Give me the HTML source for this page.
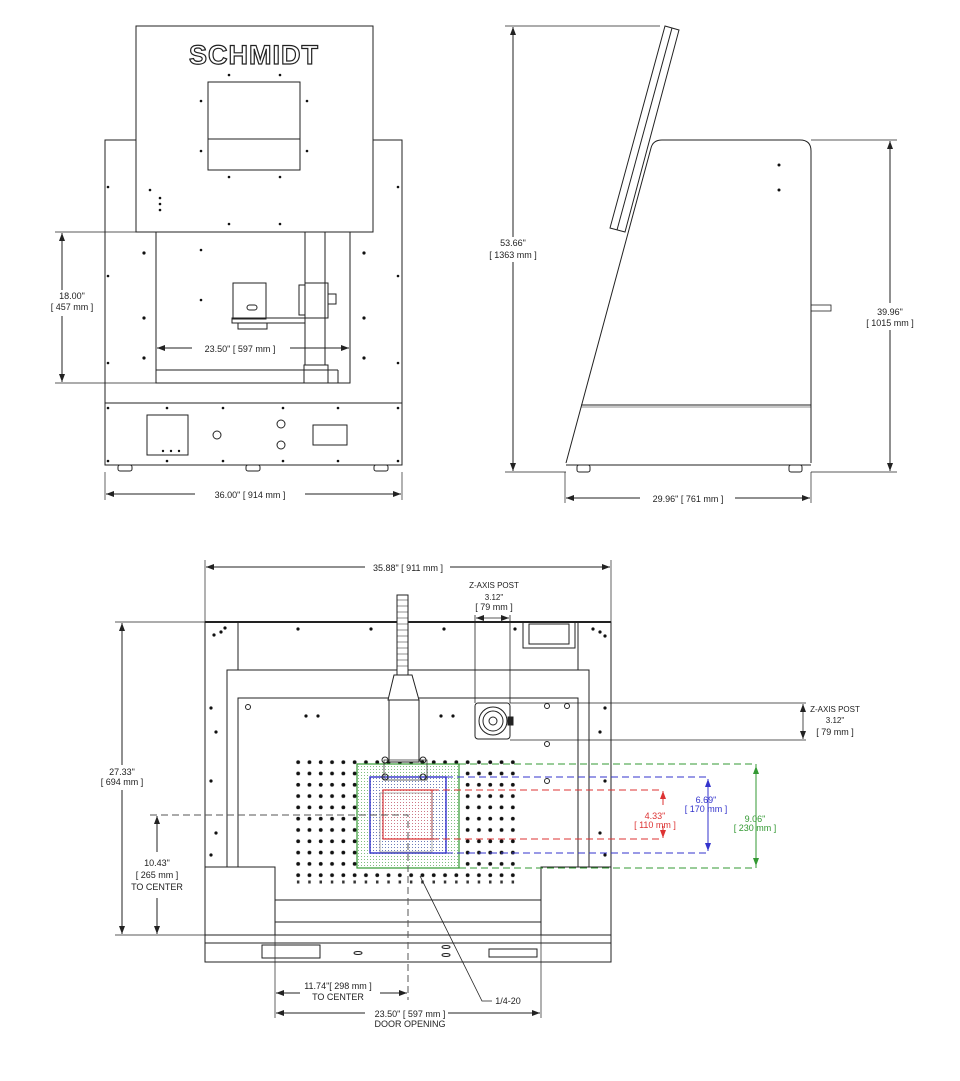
<!DOCTYPE html>
<html><head><meta charset="utf-8"><style>
html,body{margin:0;padding:0;background:#fff}
svg{display:block}
text{font-family:"Liberation Sans",sans-serif;font-size:9px;fill:#222}
</style></head><body>
<svg width="960" height="1081" viewBox="0 0 960 1081" xmlns="http://www.w3.org/2000/svg">
<defs>
<marker id="a" markerWidth="8" markerHeight="6" refX="8" refY="3" orient="auto-start-reverse" markerUnits="userSpaceOnUse"><path d="M0,0L8,3L0,6z" fill="#222"/></marker>
<marker id="ar" markerWidth="8" markerHeight="6" refX="8" refY="3" orient="auto-start-reverse" markerUnits="userSpaceOnUse"><path d="M0,0L8,3L0,6z" fill="#d33"/></marker>
<marker id="ab" markerWidth="8" markerHeight="6" refX="8" refY="3" orient="auto-start-reverse" markerUnits="userSpaceOnUse"><path d="M0,0L8,3L0,6z" fill="#33c"/></marker>
<marker id="ag" markerWidth="8" markerHeight="6" refX="8" refY="3" orient="auto-start-reverse" markerUnits="userSpaceOnUse"><path d="M0,0L8,3L0,6z" fill="#393"/></marker>
<pattern id="holes" x="292.5" y="756.5" width="11.3" height="11.3" patternUnits="userSpaceOnUse"><circle cx="5.65" cy="5.65" r="1.9" fill="#111"/></pattern>
<pattern id="lholes" x="292.5" y="877" width="11.3" height="10" patternUnits="userSpaceOnUse"><rect x="4.4" y="3.5" width="2.5" height="3" fill="#333"/></pattern>
<pattern id="gdot" width="3" height="3" patternUnits="userSpaceOnUse"><circle cx="1.5" cy="1.5" r="0.5" fill="#5a5"/></pattern>
<pattern id="bdot" width="3" height="3" patternUnits="userSpaceOnUse"><circle cx="1.5" cy="1.5" r="0.5" fill="#66c"/></pattern>
<pattern id="rdot" width="3" height="3" patternUnits="userSpaceOnUse"><circle cx="1.5" cy="1.5" r="0.5" fill="#e77"/></pattern>
</defs>
<g fill="none" stroke="#222" stroke-width="1">
<!-- FRONT VIEW -->
<rect x="105" y="140" width="297" height="263"/>
<rect x="136" y="26" width="237" height="206" fill="#fff"/>
<rect x="208" y="82" width="92" height="88"/>
<line x1="208" y1="139" x2="300" y2="139"/>
<rect x="156" y="232" width="194" height="151"/>
<line x1="156" y1="370" x2="338" y2="370"/>
<line x1="338" y1="370" x2="338" y2="383"/>
<rect x="305" y="232" width="20" height="133"/>
<rect x="304" y="365" width="24" height="18"/>
<rect x="233" y="283" width="33" height="36"/>
<rect x="232" y="318" width="73" height="5"/>
<rect x="238" y="323" width="29" height="6"/>
<rect x="247" y="305" width="10" height="5" rx="2.5"/>
<rect x="305" y="283" width="23" height="35"/>
<rect x="299" y="285" width="6" height="30"/>
<rect x="328" y="294" width="8" height="10"/>
<rect x="105" y="403" width="297" height="62"/>
<rect x="147" y="415" width="41" height="40"/>
<circle cx="217" cy="435" r="4"/>
<circle cx="281" cy="424" r="4"/>
<circle cx="281" cy="445" r="4"/>
<rect x="313" y="425" width="34" height="20"/>
<rect x="118" y="465" width="14" height="6" rx="2"/>
<rect x="246" y="465" width="14" height="6" rx="2"/>
<rect x="374" y="465" width="14" height="6" rx="2"/>
<!-- front dims -->
<line x1="55" y1="232" x2="156" y2="232" stroke-width=".7"/>
<line x1="55" y1="383" x2="156" y2="383" stroke-width=".7"/>
<line x1="62" y1="233" x2="62" y2="290" marker-start="url(#a)"/>
<line x1="62" y1="316" x2="62" y2="382" marker-end="url(#a)"/>
<line x1="157" y1="348" x2="192" y2="348" marker-start="url(#a)"/>
<line x1="290" y1="348" x2="349" y2="348" marker-end="url(#a)"/>
<line x1="105" y1="472" x2="105" y2="500" stroke-width=".7"/>
<line x1="402" y1="472" x2="402" y2="500" stroke-width=".7"/>
<line x1="106" y1="494" x2="195" y2="494" marker-start="url(#a)"/>
<line x1="305" y1="494" x2="401" y2="494" marker-end="url(#a)"/>

<!-- SIDE VIEW -->
<path d="M665,26 L679,30 L625,232 L610,228 Z"/>
<line x1="672" y1="28" x2="617" y2="230"/>
<path d="M566,463 L651,148 Q653,140 662,140 L800,140 Q811,140 811,151 L811,463"/>
<line x1="566" y1="465" x2="811" y2="465"/>
<line x1="581" y1="405" x2="811" y2="405"/>
<line x1="581" y1="407" x2="811" y2="407" stroke-width=".6"/>
<rect x="577" y="465" width="13" height="7" rx="2"/>
<rect x="789" y="465" width="13" height="7" rx="2"/>
<rect x="811" y="305" width="20" height="6" stroke-width=".8"/>
<line x1="505" y1="26" x2="660" y2="26" stroke-width=".7"/>
<line x1="505" y1="472" x2="566" y2="472" stroke-width=".7"/>
<line x1="513" y1="27" x2="513" y2="237" marker-start="url(#a)"/>
<line x1="513" y1="262" x2="513" y2="471" marker-end="url(#a)"/>
<line x1="811" y1="140" x2="897" y2="140" stroke-width=".7"/>
<line x1="811" y1="472" x2="897" y2="472" stroke-width=".7"/>
<line x1="890" y1="141" x2="890" y2="303" marker-start="url(#a)"/>
<line x1="890" y1="330" x2="890" y2="471" marker-end="url(#a)"/>
<line x1="565" y1="472" x2="565" y2="503" stroke-width=".7"/>
<line x1="811" y1="472" x2="811" y2="503" stroke-width=".7"/>
<line x1="566" y1="498" x2="640" y2="498" marker-start="url(#a)"/>
<line x1="735" y1="498" x2="810" y2="498" marker-end="url(#a)"/>

<!-- TOP VIEW -->
<rect x="205" y="622" width="406" height="340"/>
<line x1="205" y1="622" x2="611" y2="622" stroke-width="2"/>
<line x1="205" y1="943" x2="611" y2="943"/>
<line x1="238" y1="622" x2="238" y2="670"/>
<line x1="578" y1="622" x2="578" y2="670"/>
<path d="M227,867 L227,670 L589,670 L589,867"/>
<path d="M238,867 L238,698 L578,698 L578,867"/>
<path d="M205,867 L275,867 L275,935 M611,867 L541,867 L541,935 M205,935 L611,935"/>
<line x1="275" y1="900" x2="541" y2="900"/>
<line x1="275" y1="922" x2="541" y2="922"/>
<rect x="262" y="945" width="58" height="13"/>
<rect x="489" y="949" width="48" height="8"/>
<ellipse cx="358" cy="953" rx="4" ry="1.5"/>
<ellipse cx="446" cy="947" rx="4" ry="1.5"/>
<ellipse cx="446" cy="955" rx="4" ry="1.5"/>
<rect x="523" y="622" width="52" height="26"/>
<rect x="529" y="624" width="40" height="20"/>
<!-- holes grid -->
<rect x="292.5" y="756.5" width="226" height="124.3" fill="url(#holes)" stroke="none"/>
<rect x="292.5" y="877" width="226" height="10" fill="url(#lholes)" stroke="none"/>
<g fill="#111" stroke="none">
<circle cx="214" cy="635" r="1.6"/><circle cx="221" cy="632" r="1.6"/><circle cx="225" cy="628" r="1.6"/>
<circle cx="298" cy="629" r="1.6"/><circle cx="371" cy="629" r="1.6"/><circle cx="444" cy="629" r="1.6"/>
<circle cx="515" cy="629" r="1.6"/><circle cx="593" cy="629" r="1.6"/><circle cx="600" cy="632" r="1.6"/><circle cx="605" cy="636" r="1.6"/>
<circle cx="211" cy="708" r="1.6"/><circle cx="216" cy="732" r="1.6"/><circle cx="211" cy="781" r="1.6"/><circle cx="216" cy="833" r="1.6"/><circle cx="211" cy="855" r="1.6"/>
<circle cx="605" cy="708" r="1.6"/><circle cx="600" cy="732" r="1.6"/><circle cx="605" cy="781" r="1.6"/><circle cx="600" cy="833" r="1.6"/><circle cx="605" cy="855" r="1.6"/>
<circle cx="306" cy="716" r="1.6"/><circle cx="318" cy="716" r="1.6"/><circle cx="441" cy="716" r="1.6"/><circle cx="453" cy="716" r="1.6"/>
<circle cx="150" cy="190" r="1.3"/><circle cx="160" cy="198" r="1.3"/><circle cx="160" cy="204" r="1.3"/><circle cx="160" cy="210" r="1.3"/>
<circle cx="229" cy="75" r="1.3"/><circle cx="280" cy="75" r="1.3"/><circle cx="201" cy="101" r="1.3"/><circle cx="307" cy="101" r="1.3"/>
<circle cx="201" cy="151" r="1.3"/><circle cx="307" cy="151" r="1.3"/><circle cx="229" cy="177" r="1.3"/><circle cx="280" cy="177" r="1.3"/>
<circle cx="229" cy="224" r="1.3"/><circle cx="280" cy="224" r="1.3"/><circle cx="108" cy="187" r="1.3"/><circle cx="398" cy="187" r="1.3"/>
<circle cx="144" cy="253" r="1.6"/><circle cx="364" cy="253" r="1.6"/><circle cx="144" cy="318" r="1.6"/><circle cx="364" cy="318" r="1.6"/>
<circle cx="144" cy="358" r="1.6"/><circle cx="364" cy="358" r="1.6"/><circle cx="201" cy="250" r="1.3"/><circle cx="201" cy="300" r="1.3"/>
<circle cx="108" cy="276" r="1.3"/><circle cx="398" cy="276" r="1.3"/><circle cx="108" cy="363" r="1.3"/><circle cx="398" cy="363" r="1.3"/>
<circle cx="108" cy="408" r="1.3"/><circle cx="167" cy="408" r="1.3"/><circle cx="223" cy="408" r="1.3"/><circle cx="283" cy="408" r="1.3"/><circle cx="338" cy="408" r="1.3"/><circle cx="398" cy="408" r="1.3"/>
<circle cx="108" cy="461" r="1.3"/><circle cx="167" cy="461" r="1.3"/><circle cx="223" cy="461" r="1.3"/><circle cx="283" cy="461" r="1.3"/><circle cx="338" cy="461" r="1.3"/><circle cx="398" cy="461" r="1.3"/>
<circle cx="163" cy="451" r="1.2"/><circle cx="171" cy="451" r="1.2"/><circle cx="179" cy="451" r="1.2"/>
<circle cx="779" cy="165" r="1.5"/><circle cx="779" cy="190" r="1.5"/>
</g>
<!-- work areas -->
<rect x="357" y="764" width="102" height="104" fill="#fff" stroke="none"/>
<rect x="357" y="764" width="102" height="104" fill="url(#gdot)" stroke="#393" stroke-width="1.2"/>
<rect x="370" y="777" width="76" height="76" fill="url(#bdot)" stroke="#33c" stroke-width="1.4"/>
<rect x="383" y="790" width="49" height="49" fill="url(#rdot)" stroke="#d33" stroke-width="1.2"/>
<rect x="380" y="793" width="52" height="59" stroke="#888" stroke-width=".7"/>
<g stroke-dasharray="7,4" stroke-width="1">
<path d="M459,764 H756 M459,868 H756 V764" stroke="#393"/>
<path d="M446,777 H708 M446,853 H708" stroke="#33c"/>
<path d="M432,790 H663 M432,839 H663" stroke="#d33"/>
<path d="M150,815 H408 V1000" stroke="#555"/>
</g>
<line x1="756" y1="766" x2="756" y2="866" stroke="#393" marker-start="url(#ag)" marker-end="url(#ag)"/>
<line x1="708" y1="779" x2="708" y2="851" stroke="#33c" marker-start="url(#ab)" marker-end="url(#ab)"/>
<line x1="663" y1="791" x2="663" y2="805" stroke="#d33" marker-start="url(#ar)"/>
<line x1="663" y1="826" x2="663" y2="838" stroke="#d33" marker-end="url(#ar)"/>
<!-- laser -->
<rect x="397" y="595" width="11" height="80" fill="#fff"/>
<path d="M397,600 H408 M397,606 H408 M397,612 H408 M397,618 H408 M397,624 H408 M397,630 H408 M397,636 H408 M397,642 H408 M397,648 H408 M397,654 H408 M397,660 H408 M397,666 H408" stroke-width=".6"/>
<path d="M394,675 H412 L419,700 H388 Z" fill="#fff"/>
<rect x="389" y="700" width="30" height="62" fill="#fff"/>
<rect x="384" y="760" width="43" height="20" stroke-width=".7"/>
<circle cx="385" cy="760" r="3"/><circle cx="423" cy="760" r="3"/><circle cx="385" cy="777" r="3"/><circle cx="423" cy="777" r="3"/>
<!-- z post -->
<rect x="475" y="703" width="35" height="36" rx="3"/>
<circle cx="493" cy="721" r="14"/><circle cx="493" cy="721" r="10"/><circle cx="493" cy="721" r="4"/>
<rect x="508" y="717" width="5" height="8" fill="#222"/>
<path d="M475,703 V615 M510,703 V615 M510,703 H806 M510,740 H806" stroke-width=".8"/>
<line x1="476" y1="618" x2="509" y2="618" marker-start="url(#a)" marker-end="url(#a)" stroke-width=".8"/>
<line x1="803" y1="704" x2="803" y2="739" marker-start="url(#a)" marker-end="url(#a)" stroke-width=".8"/>
<circle cx="547" cy="706" r="2.5"/><circle cx="567" cy="706" r="2.5"/><circle cx="547" cy="744" r="2.5"/><circle cx="547" cy="781" r="2.5"/><circle cx="248" cy="707" r="2.5"/>
<!-- top view dims -->
<path d="M205,560 V622 M611,560 V622" stroke-width=".7"/>
<line x1="206" y1="567" x2="365" y2="567" marker-start="url(#a)"/>
<line x1="450" y1="567" x2="610" y2="567" marker-end="url(#a)"/>
<path d="M115,622 H205 M115,935 H205" stroke-width=".7"/>
<line x1="122" y1="623" x2="122" y2="765" marker-start="url(#a)"/>
<line x1="122" y1="790" x2="122" y2="934" marker-end="url(#a)"/>
<line x1="157" y1="816" x2="157" y2="852" marker-start="url(#a)"/>
<line x1="157" y1="898" x2="157" y2="934" marker-end="url(#a)"/>
<path d="M275,935 V1018 M541,935 V1018" stroke-width=".7"/>
<line x1="276" y1="993" x2="300" y2="993" marker-start="url(#a)"/>
<line x1="380" y1="993" x2="407" y2="993" marker-end="url(#a)"/>
<line x1="276" y1="1013" x2="365" y2="1013" marker-start="url(#a)"/>
<line x1="448" y1="1013" x2="540" y2="1013" marker-end="url(#a)"/>
<path d="M420,876 L482,1001 H492" stroke-width=".8"/>
</g>
<text x="254" y="64" text-anchor="middle" style="font-size:27px;font-weight:bold;fill:#fff;stroke:#222;stroke-width:1.2;letter-spacing:1px">SCHMIDT</text>
<text x="240" y="352" text-anchor="middle">23.50" [ 597 mm  ]</text>
<text x="72" y="299" text-anchor="middle">18.00"</text>
<text x="72" y="310" text-anchor="middle">[ 457 mm   ]</text>
<text x="250" y="498" text-anchor="middle">36.00" [ 914 mm ]</text>
<text x="513" y="246" text-anchor="middle">53.66"</text>
<text x="513" y="258" text-anchor="middle">[ 1363 mm  ]</text>
<text x="890" y="315" text-anchor="middle">39.96"</text>
<text x="890" y="326" text-anchor="middle">[ 1015 mm ]</text>
<text x="688" y="502" text-anchor="middle">29.96" [ 761 mm ]</text>
<text x="408" y="571" text-anchor="middle">35.88" [ 911 mm ]</text>
<text x="494" y="588" text-anchor="middle" style="font-size:8px">Z-AXIS POST</text>
<text x="494" y="600" text-anchor="middle" style="font-size:8px">3.12"</text>
<text x="494" y="610" text-anchor="middle">[ 79 mm  ]</text>
<text x="835" y="712" text-anchor="middle" style="font-size:8px">Z-AXIS POST</text>
<text x="835" y="723" text-anchor="middle" style="font-size:8px">3.12"</text>
<text x="835" y="735" text-anchor="middle">[ 79 mm  ]</text>
<text x="655" y="819" text-anchor="middle" style="fill:#d33">4.33"</text>
<text x="655" y="828" text-anchor="middle" style="fill:#d33">[ 110 mm ]</text>
<text x="706" y="803" text-anchor="middle" style="fill:#33c">6.69"</text>
<text x="706" y="812" text-anchor="middle" style="fill:#33c">[ 170 mm  ]</text>
<text x="755" y="822" text-anchor="middle" style="fill:#393">9.06"</text>
<text x="755" y="831" text-anchor="middle" style="fill:#393">[ 230 mm   ]</text>
<text x="122" y="775" text-anchor="middle">27.33"</text>
<text x="122" y="785" text-anchor="middle">[ 694 mm   ]</text>
<text x="157" y="866" text-anchor="middle">10.43"</text>
<text x="157" y="878" text-anchor="middle">[ 265 mm  ]</text>
<text x="157" y="890" text-anchor="middle">TO CENTER</text>
<text x="338" y="989" text-anchor="middle">11.74"[ 298 mm  ]</text>
<text x="338" y="1000" text-anchor="middle">TO CENTER</text>
<text x="410" y="1017" text-anchor="middle">23.50" [ 597 mm  ]</text>
<text x="410" y="1027" text-anchor="middle">DOOR OPENING</text>
<text x="508" y="1004" text-anchor="middle">1/4-20</text>
</svg>
</body></html>
